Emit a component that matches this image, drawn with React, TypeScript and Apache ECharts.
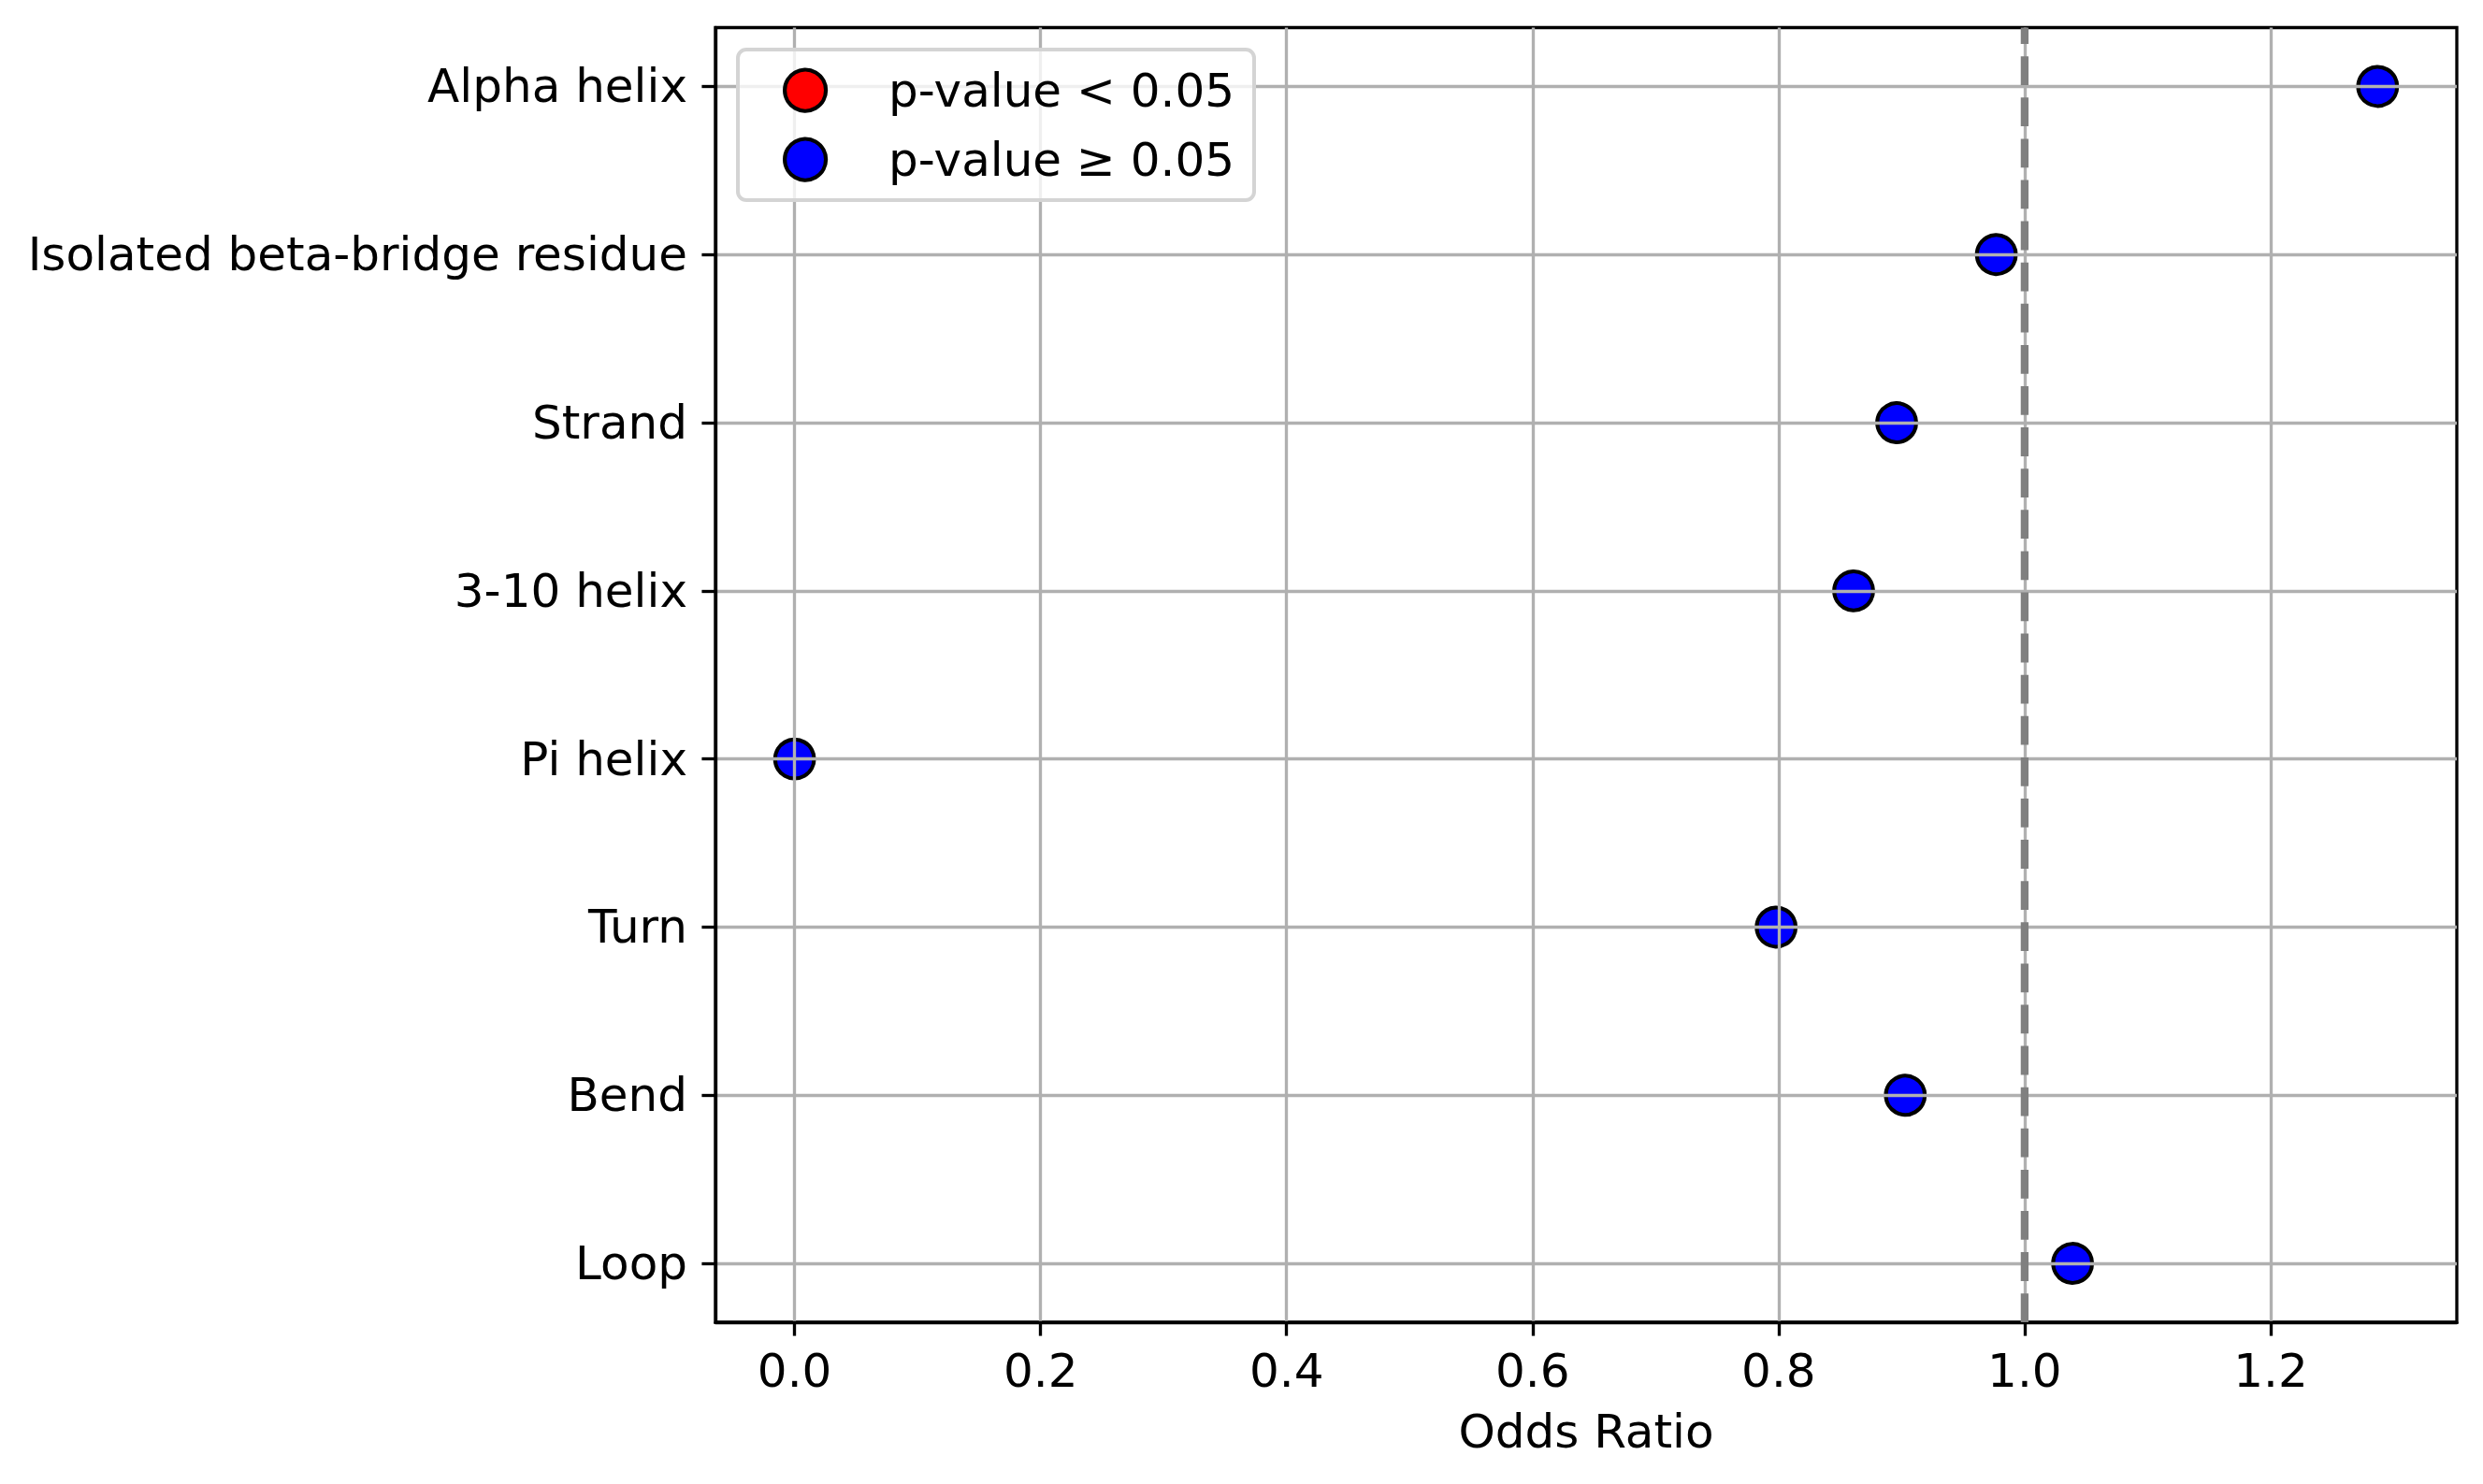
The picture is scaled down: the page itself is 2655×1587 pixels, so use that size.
import React, { useEffect, useRef } from "react";
import * as echarts from "echarts";

const categories = [
  "Alpha helix",
  "Isolated beta-bridge residue",
  "Strand",
  "3-10 helix",
  "Pi helix",
  "Turn",
  "Bend",
  "Loop",
];
const oddsRatios = [1.287, 0.977, 0.896, 0.861, 0.0, 0.798, 0.903, 1.039];
const significant = [false, false, false, false, false, false, false, false];
const xTicks = [0, 0.2, 0.4, 0.6, 0.8, 1.0, 1.2];
const referenceValue = 1.0;
const sigName = "p-value < 0.05";
const nonSigName = "p-value \u2265 0.05";

const FONT = "DejaVu Sans";

export default function App() {
  const ref = useRef<HTMLDivElement>(null);
  useEffect(() => {
    if (!ref.current) return;
    const chart = echarts.init(ref.current, null, { renderer: "svg" });
    const yIdx = categories.map((_, i) => i);
    const sigData: number[][] = [];
    const nonSigData: number[][] = [];
    oddsRatios.forEach((v, i) => {
      (significant[i] ? sigData : nonSigData).push([v, i]);
    });
    const xMin = Math.min(...oddsRatios);
    const xMax = Math.max(...oddsRatios);
    const xm = (xMax - xMin) * 0.05;
    const ym = (categories.length - 1) * 0.05;
    const gridLine = { color: "#b0b0b0", width: 3.33 };
    chart.setOption({
      animation: false,
      backgroundColor: "#ffffff",
      grid: {
        left: 765,
        top: 29.5,
        width: 1862,
        height: 1384.5,
        show: true,
        borderColor: "#000",
        borderWidth: 3.33,
        containLabel: false,
      },
      xAxis: {
        type: "value",
        min: xMin - xm,
        max: xMax + xm,
        z: 4,
        axisLine: { show: true, onZero: false, lineStyle: { color: "#000", width: 3.33 } },
        axisTick: {
          show: true,
          inside: false,
          length: 14.6,
          customValues: xTicks,
          lineStyle: { color: "#000", width: 3.33 },
        },
        axisLabel: {
          show: true,
          customValues: xTicks,
          margin: 27,
          color: "#000",
          fontSize: 50,
          fontFamily: FONT,
          formatter: (v: number) => v.toFixed(1),
        },
        splitLine: { show: true, lineStyle: gridLine },
        name: "Odds Ratio",
        nameLocation: "middle",
        nameGap: 92,
        nameTextStyle: { color: "#000", fontSize: 50, fontFamily: FONT },
      },
      yAxis: {
        type: "value",
        inverse: true,
        min: -ym,
        max: categories.length - 1 + ym,
        z: 4,
        axisLine: { show: true, onZero: false, lineStyle: { color: "#000", width: 3.33 } },
        axisTick: {
          show: true,
          inside: false,
          length: 14.6,
          customValues: yIdx,
          lineStyle: { color: "#000", width: 3.33 },
        },
        axisLabel: {
          show: true,
          customValues: yIdx,
          margin: 30,
          color: "#000",
          fontSize: 50,
          fontFamily: FONT,
          formatter: (v: number) => categories[Math.round(v)] ?? "",
        },
        splitLine: { show: true, lineStyle: gridLine },
      },
      legend: {
        data: [sigName, nonSigName],
        orient: "vertical",
        left: 837,
        top: 71.6,
        padding: 0,
        itemWidth: 168,
        itemHeight: 44,
        itemGap: 24,
        z: 10,
        icon: "circle",
        itemStyle: { borderColor: "#000", borderWidth: 4.2 },
        textStyle: { color: "#000", fontSize: 50, fontFamily: FONT, lineHeight: 44 },
        selectedMode: false,
      },
      graphic: [
        {
          type: "rect",
          z: 9,
          shape: { x: 789, y: 53, width: 552, height: 161, r: 9 },
          style: { fill: "rgba(255,255,255,0.8)", stroke: "#d4d4d4", lineWidth: 4 },
        },
      ],
      series: [
        {
          name: sigName,
          type: "scatter",
          data: sigData,
          symbol: "circle",
          symbolSize: 41.7,
          z: 2,
          itemStyle: { color: "#ff0000", borderColor: "#000", borderWidth: 4.2, opacity: 1 },
        },
        {
          name: nonSigName,
          type: "scatter",
          data: nonSigData,
          symbol: "circle",
          symbolSize: 41.7,
          z: 2,
          itemStyle: { color: "#0000ff", borderColor: "#000", borderWidth: 4.2, opacity: 1 },
        },
        {
          name: "reference",
          type: "line",
          data: [
            [referenceValue, categories.length - 1 + ym],
            [referenceValue, -ym],
          ],
          symbol: "none",
          z: 6,
          silent: true,
          lineStyle: { color: "#808080", width: 8.3, type: [30.8, 13.3], cap: "butt" },
        },
      ],
    });
    return () => chart.dispose();
  }, []);
  return (
    <div
      ref={ref}
      style={{ position: "fixed", left: 0, top: 0, width: 2655, height: 1587, background: "#fff" }}
    />
  );
}
